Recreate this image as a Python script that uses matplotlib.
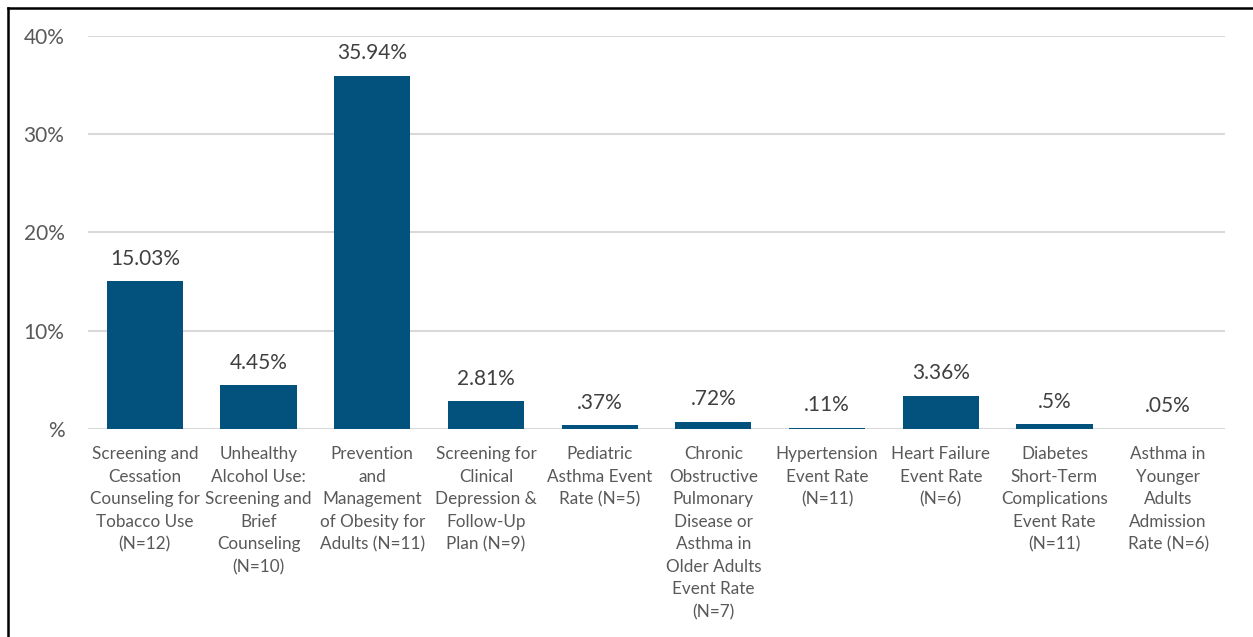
import matplotlib.pyplot as plt
from matplotlib.lines import Line2D

plt.rcParams['font.family'] = ['Lato', 'DejaVu Sans']

categories = [
    'Screening and\nCessation\nCounseling for\nTobacco Use\n(N=12)',
    'Unhealthy\nAlcohol Use:\nScreening and\nBrief\nCounseling\n(N=10)',
    'Prevention\nand\nManagement\nof Obesity for\nAdults (N=11)',
    'Screening for\nClinical\nDepression &\nFollow-Up\nPlan (N=9)',
    'Pediatric\nAsthma Event\nRate (N=5)',
    'Chronic\nObstructive\nPulmonary\nDisease or\nAsthma in\nOlder Adults\nEvent Rate\n(N=7)',
    'Hypertension\nEvent Rate\n(N=11)',
    'Heart Failure\nEvent Rate\n(N=6)',
    'Diabetes\nShort-Term\nComplications\nEvent Rate\n(N=11)',
    'Asthma in\nYounger\nAdults\nAdmission\nRate (N=6)',
]
values = [15.03, 4.45, 35.94, 2.81, 0.37, 0.72, 0.11, 3.36, 0.5, 0.05]
value_labels = ['15.03%', '4.45%', '35.94%', '2.81%', '.37%', '.72%', '.11%', '3.36%', '.5%', '.05%']
yticks = [0, 10, 20, 30, 40]
ytick_labels = ['%', '10%', '20%', '30%', '40%']

grey = '#595959'
fig = plt.figure(figsize=(12.53, 6.37), dpi=100)
ax = fig.add_axes([88 / 1253, 1 - 429 / 637, 1137 / 1253, (429 - 36) / 637])

x = range(len(values))
ax.bar(x, values, width=0.67, color='#03527E', zorder=3)
for xi, v, lab in zip(x, values, value_labels):
    ax.annotate(lab, (xi, v), xytext=(0, 9), textcoords='offset points',
                ha='center', va='bottom', fontsize=15, color='#404040')

ax.set_xlim(-0.5, len(values) - 0.5)
ax.set_ylim(0, 40)
ax.set_yticks(yticks)
ax.set_yticklabels(ytick_labels, fontsize=15, color=grey)
ax.set_xticks(list(x))
ax.set_xticklabels(categories, fontsize=12.3, color=grey, linespacing=1.5, va='top')
ax.tick_params(axis='both', length=0)
ax.tick_params(axis='y', pad=17)
ax.tick_params(axis='x', pad=12.5)
ax.grid(axis='y', color='#D9D9D9', linewidth=1.5, zorder=0)
for s in ax.spines.values():
    s.set_visible(False)

# outer frame (left and top edges visible)
fx = 8 / 1253
fy = 1 - 8 / 637
fig.add_artist(Line2D([fx, fx], [0, fy], color='black', linewidth=1.8, transform=fig.transFigure))
fig.add_artist(Line2D([fx, 1], [fy, fy], color='black', linewidth=1.8, transform=fig.transFigure))

fig.savefig('out.png', dpi=100)
